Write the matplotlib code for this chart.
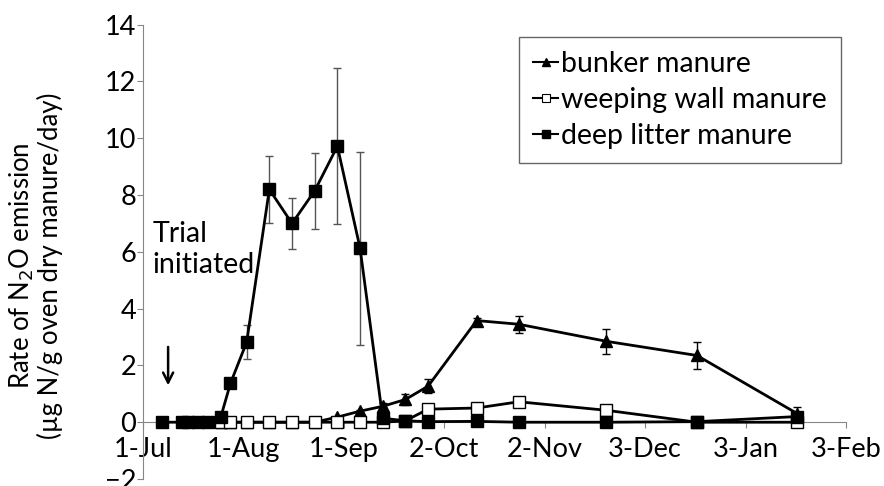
import matplotlib
matplotlib.use("Agg")
import matplotlib.pyplot as plt
import matplotlib.dates as mdates
from matplotlib.lines import Line2D
import numpy as np
import pandas as pd

plt.rcParams['font.family'] = ['Lato', 'DejaVu Sans']

# sampling dates
dates = ['2011-07-07', '2011-07-13', '2011-07-15', '2011-07-18', '2011-07-21',
         '2011-07-25', '2011-07-28', '2011-08-02', '2011-08-09', '2011-08-16',
         '2011-08-23', '2011-08-30', '2011-09-06', '2011-09-13', '2011-09-20',
         '2011-09-27', '2011-10-12', '2011-10-25', '2011-11-21', '2011-12-19',
         '2012-01-19']

# deep litter manure (all dates)
deep_litter = [0, 0, 0, 0, 0, 0.18, 1.37, 2.82, 8.2, 7.0, 8.15, 9.72, 6.13,
               0.14, 0.05, 0.02, 0.03, 0.0, 0.0, 0.02, 0.2]
deep_litter_err = [0, 0, 0, 0, 0, 0, 0.1, 0.6, 1.17, 0.9, 1.33, 2.75, 3.4,
                   0, 0, 0, 0, 0, 0, 0, 0]

# bunker and weeping wall start on 25-Jul
bunker = [0, 0, 0, 0, 0, 0, 0.18, 0.39, 0.56, 0.8, 1.27, 3.58, 3.45, 2.85,
          2.35, 0.3]
bunker_err = [0, 0, 0, 0, 0, 0, 0, 0.05, 0.1, 0.2, 0.25, 0.1, 0.3, 0.44,
              0.47, 0.25]
weeping_wall = [0, 0, 0, 0, 0, 0, 0, 0, 0, 0.05, 0.46, 0.5, 0.72, 0.42,
                0.0, 0.0]
weeping_wall_err = [0, 0, 0, 0, 0, 0, 0, 0, 0, 0, 0.05, 0.15, 0.08, 0,
                    0, 0]

series_names = ['bunker manure', 'weeping wall manure', 'deep litter manure']

tick_dates = ['2011-07-01', '2011-08-01', '2011-09-01', '2011-10-02',
              '2011-11-02', '2011-12-03', '2012-01-03', '2012-02-03']

x_all = pd.to_datetime(dates)
x_late = x_all[5:]

AXIS_GREY = '#868686'
FS = 19.5

fig = plt.figure(figsize=(8.84, 4.86), dpi=100)
ax = fig.add_axes([143/884, 1-479/486, (846-143)/884, (479-24.7)/486])

ax.errorbar(x_late, bunker, yerr=bunker_err, color='black', lw=2,
            marker='^', ms=9, mfc='black', mec='black',
            ecolor='black', elinewidth=1, capsize=3, zorder=3)
ax.errorbar(x_late, weeping_wall, yerr=weeping_wall_err, color='black', lw=2,
            marker='s', ms=8, mfc='white', mec='black', mew=1,
            ecolor='black', elinewidth=1, capsize=3, zorder=4)
ax.errorbar(x_all, deep_litter, yerr=deep_litter_err, color='black', lw=2,
            marker='s', ms=8, mfc='black', mec='black',
            ecolor='#555555', elinewidth=1, capsize=3, zorder=5)

ax.set_ylim(-2, 14)
ax.set_yticks(np.arange(-2, 15, 2))
ax.set_xlim(pd.Timestamp(tick_dates[0]), pd.Timestamp(tick_dates[-1]))
ax.set_xticks(pd.to_datetime(tick_dates))
ax.xaxis.set_major_formatter(mdates.DateFormatter('%-d-%b'))

ax.spines['top'].set_visible(False)
ax.spines['right'].set_visible(False)
ax.spines['bottom'].set_position(('data', 0))
ax.spines['bottom'].set_color(AXIS_GREY)
ax.spines['left'].set_color(AXIS_GREY)
ax.tick_params(axis='both', colors=AXIS_GREY, labelcolor='black',
               labelsize=FS, direction='out', length=4)
ax.tick_params(axis='x', pad=7)
ax.tick_params(axis='y', pad=1)

ax.set_ylabel('Rate of N$_2$O emission\n(\u00b5g N/g oven dry manure/day)',
              fontsize=18.5, linespacing=1.05)
ax.yaxis.set_label_coords(-0.114, 0.47)

ax.text(pd.Timestamp('2011-07-04'), 7.1, 'Trial\ninitiated', fontsize=20.5,
        va='top', ha='left', linespacing=1.25)
ax.annotate('', xy=(pd.Timestamp('2011-07-08 18:00'), 1.2),
            xytext=(pd.Timestamp('2011-07-08 18:00'), 2.75),
            arrowprops=dict(arrowstyle='->', lw=1.8, color='black',
                            mutation_scale=18))

handles = [
    Line2D([], [], color='black', lw=1.5, marker='^', ms=6, mfc='black', mec='black'),
    Line2D([], [], color='black', lw=1.5, marker='s', ms=6, mfc='white', mec='black', mew=0.8),
    Line2D([], [], color='black', lw=1.5, marker='s', ms=6, mfc='black', mec='black'),
]
leg = ax.legend(handles, series_names, loc='upper right',
                bbox_to_anchor=(0.993, 0.973), borderaxespad=0, fontsize=20.5,
                handlelength=0.85, handletextpad=0.12, fancybox=False,
                frameon=True, borderpad=0.5, labelspacing=0.35)
leg.get_frame().set_edgecolor('#404040')
leg.get_frame().set_linewidth(1)

fig.savefig('out.png', dpi=100)
